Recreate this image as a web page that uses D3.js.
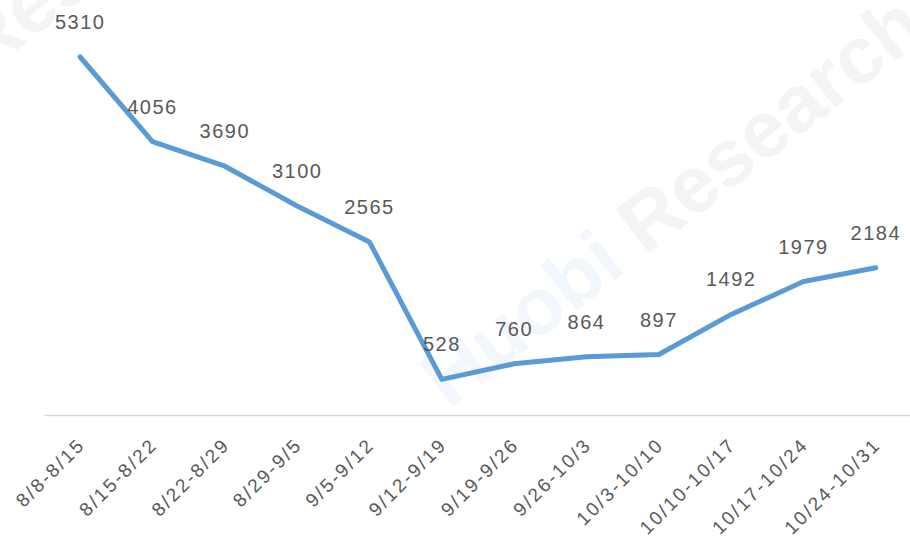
<!DOCTYPE html>
<html>
<head>
<meta charset="utf-8">
<script src="https://cdn.jsdelivr.net/npm/d3@7"></script>
<style>
  body { margin: 0; background: #fff; }
  svg { display: block; }
</style>
</head>
<body>
<script>
var weeks = ['8/8-8/15', '8/15-8/22', '8/22-8/29', '8/29-9/5', '9/5-9/12', '9/12-9/19',
             '9/19-9/26', '9/26-10/3', '10/3-10/10', '10/10-10/17', '10/17-10/24', '10/24-10/31'];
var counts = [5310, 4056, 3690, 3100, 2565, 528, 760, 864, 897, 1492, 1979, 2184];

var width = 910, height = 538;
var baseY = 415;
var font = 'Liberation Sans, Arial, sans-serif';

var svg = d3.select('body')
    .append('svg')
    .attr('width', width)
    .attr('height', height);

// faint watermark behind the chart
var wm = svg.append('g').attr('font-family', font)
    .attr('font-weight', 'bold').attr('font-size', 80);
[[672, 200], [10, 20]].forEach(function(c) {
    var t = wm.append('text')
        .attr('transform', `translate(${c[0]},${c[1]}) rotate(-38)`)
        .attr('text-anchor', 'middle')
        .attr('dy', '0.35em');
    t.append('tspan').text('Huobi ').attr('fill', '#f1f7fc');
    t.append('tspan').text('Research').attr('fill', '#f4f4f4');
});

var x = d3.scaleBand()
    .domain(weeks)
    .range([44, 912]);

var y = d3.scaleLinear()
    .domain([0, 5310])
    .range([baseY, 57]);

var axis = svg.append('g')
    .attr('transform', `translate(0,${baseY})`)
    .call(d3.axisBottom(x).tickSize(0).tickSizeOuter(0));

axis.select('.domain').attr('stroke', '#d9d9d9').attr('stroke-width', 1.5);
axis.selectAll('.tick text')
    .attr('font-family', font)
    .attr('font-size', 19)
    .attr('letter-spacing', 2.3)
    .attr('fill', '#595959')
    .attr('text-anchor', 'end')
    .attr('y', 0)
    .attr('dy', 0)
    .attr('transform', 'translate(6,31) rotate(-45)');

var line = d3.line()
    .x((d, i) => x(weeks[i]) + x.bandwidth() / 2)
    .y(d => y(d));

svg.append('path')
    .datum(counts)
    .attr('d', line)
    .attr('fill', 'none')
    .attr('stroke', '#5b9bd5')
    .attr('stroke-width', 5)
    .attr('stroke-linejoin', 'round')
    .attr('stroke-linecap', 'round');

svg.selectAll('.lbl')
    .data(counts)
    .enter()
    .append('text')
    .attr('class', 'lbl')
    .attr('x', (d, i) => x(weeks[i]) + x.bandwidth() / 2)
    .attr('y', d => y(d) - 28)
    .attr('text-anchor', 'middle')
    .attr('font-family', font)
    .attr('font-size', 20)
    .attr('letter-spacing', 1.5)
    .attr('fill', '#595959')
    .text(d => d);
</script>
</body>
</html>
